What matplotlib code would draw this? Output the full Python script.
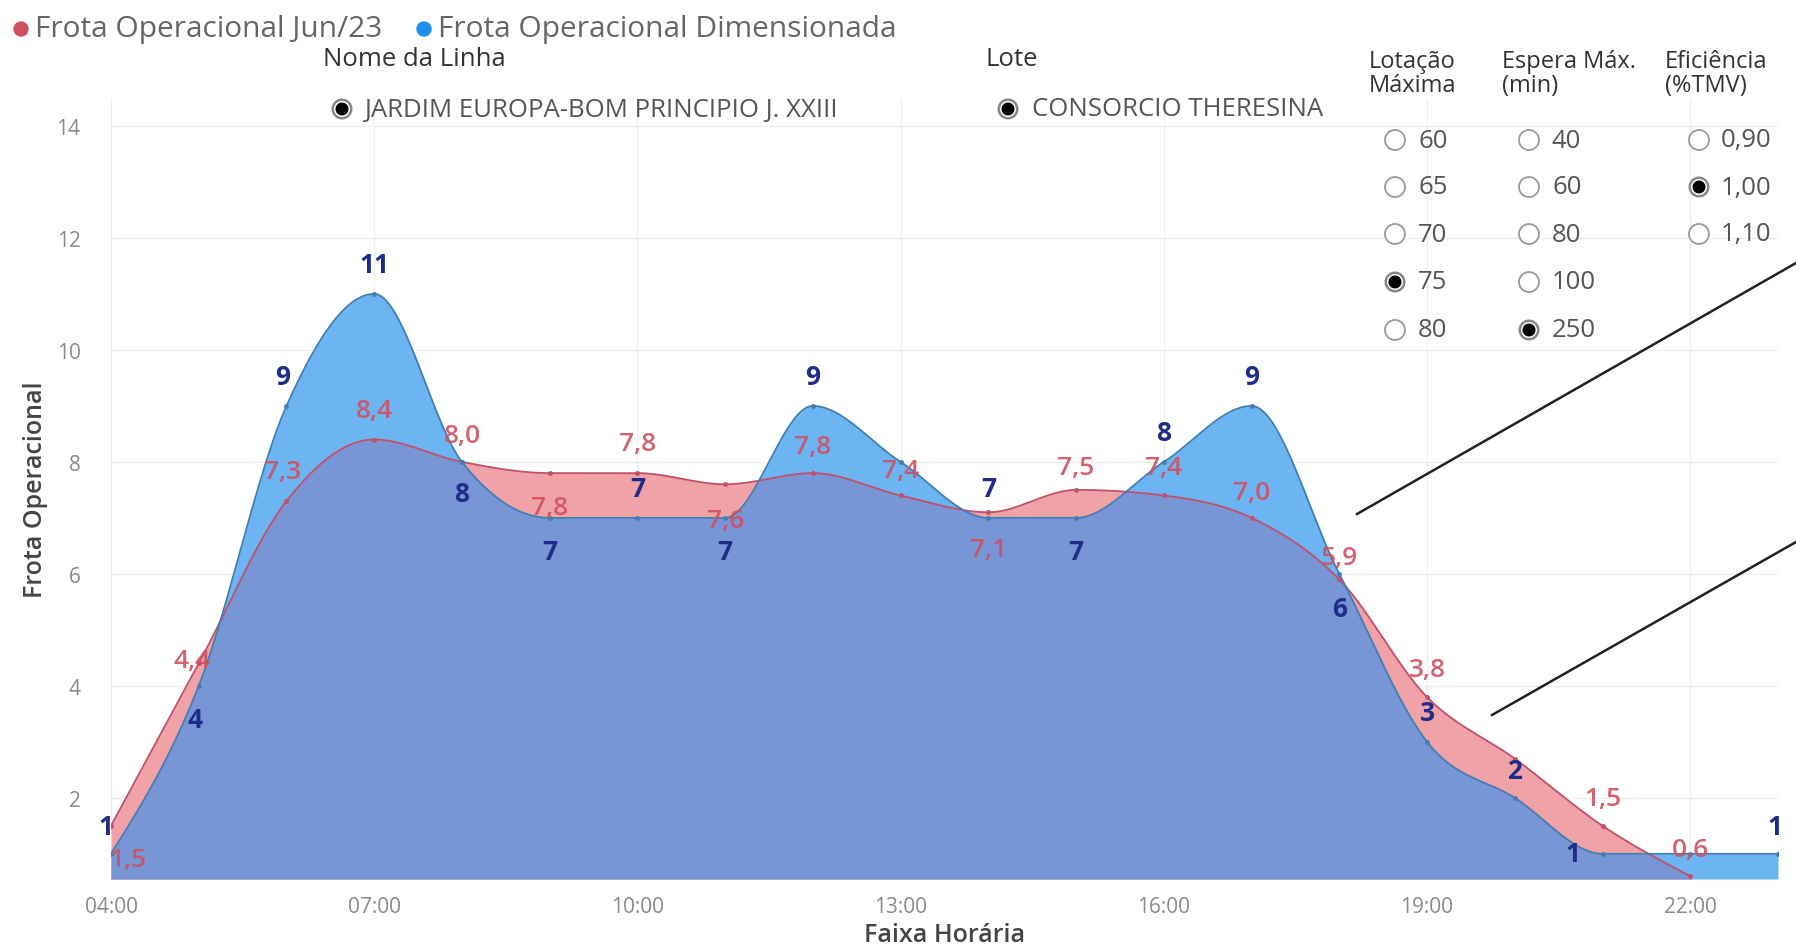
import numpy as np
import matplotlib.pyplot as plt
from matplotlib.patches import Circle

# dados
horas = list(range(4, 24))
ticks_x = [4, 7, 10, 13, 16, 19, 22]
rotulos_x = ["04:00", "07:00", "10:00", "13:00", "16:00", "19:00", "22:00"]
ticks_y = [2, 4, 6, 8, 10, 12, 14]

frota_jun23 = [1.5, 4.4, 7.3, 8.4, 8.0, 7.8, 7.8, 7.6, 7.8, 7.4, 7.1, 7.5,
               7.4, 7.0, 5.9, 3.8, 2.7, 1.5, 0.6]
frota_dim = [1, 4, 9, 11, 8, 7, 7, 7, 9, 8, 7, 7, 8, 9, 6, 3, 2, 1, 1, 1]

legenda = ["Frota Operacional Jun/23", "Frota Operacional Dimensionada"]

lotacao = ["60", "65", "70", "75", "80"]
espera = ["40", "60", "80", "100", "250"]
eficiencia = ["0,90", "1,00", "1,10"]
sel_lotacao, sel_espera, sel_eficiencia = "75", "250", "1,00"

# posicao dos rotulos (offset em pontos), None = rotulo oculto
off_dim = [(-4, 20), (-3, -24), (-3, 21), (0, 21), (0, -23), (0, -24), (0, 21),
           (0, -24), (0, 21), None, (0, 21), (0, -24), (0, 21), (0, 21),
           (0, -25), (0, 21), (0, 20), (-21, 0), None, (-2, 20)]
off_jun = [(12, -24), (-5, 2), (-3, 21), (0, 21), (0, 19), (0, -25), (0, 21),
           (0, -26), (0, 19), (0, 18), (0, -27), (0, 16), (0, 20), (0, 18),
           (0, 16), (0, 20), None, (0, 20), (0, 19)]

C_BLUE_FILL = "#6db4f3"
C_RED_FILL = "#f1a2a7"
C_OVER = "#7895d5"
C_BLUE_LINE = "#3f7fb3"
C_RED_LINE = "#c0506a"
C_BLUE_TXT = "#1f2d8a"
C_RED_TXT = "#d0505f"
FONT = "Open Sans"


def monotone(x, y, n=40):
    # curva monotona (igual d3.curveMonotoneX)
    x = np.asarray(x, float)
    y = np.asarray(y, float)
    h = np.diff(x)
    s = np.diff(y) / h
    m = np.zeros(len(x))
    for i in range(1, len(x) - 1):
        p = (s[i - 1] * h[i] + s[i] * h[i - 1]) / (h[i - 1] + h[i])
        m[i] = (np.sign(s[i - 1]) + np.sign(s[i])) * min(abs(s[i - 1]), abs(s[i]), 0.5 * abs(p))
    m[0] = (3 * s[0] - m[1]) / 2
    m[-1] = (3 * s[-1] - m[-2]) / 2
    xs, ys = [], []
    for i in range(len(x) - 1):
        t = np.linspace(0, 1, n, endpoint=False)
        h00 = 2 * t**3 - 3 * t**2 + 1
        h10 = t**3 - 2 * t**2 + t
        h01 = -2 * t**3 + 3 * t**2
        h11 = t**3 - t**2
        xs.append(x[i] + t * h[i])
        ys.append(h00 * y[i] + h10 * h[i] * m[i] + h01 * y[i + 1] + h11 * h[i] * m[i + 1])
    xs.append([x[-1]])
    ys.append([y[-1]])
    return np.concatenate(xs), np.concatenate(ys)


W, H = 1796, 953
fig = plt.figure(figsize=(W / 100, H / 100), dpi=100)
ax = fig.add_axes([111 / W, 1 - 880 / H, (1778 - 111) / W, (880 - 99) / H])

base = 0.55
xb, yb = monotone(horas, frota_dim)
xr, yr = monotone(horas[:len(frota_jun23)], frota_jun23)
yr_full = np.interp(xb, xr, yr, right=np.nan)

ax.fill_between(xb, base, yb, color=C_BLUE_FILL, lw=0, zorder=2)
ax.fill_between(xr, base, yr, color=C_RED_FILL, lw=0, zorder=2)
over = np.fmin(yb, np.where(np.isnan(yr_full), base, yr_full))
ax.fill_between(xb, base, over, color=C_OVER, lw=0, zorder=3)
ax.plot(xr, yr, color=C_RED_LINE, lw=1.3, zorder=4)
ax.plot(xb, yb, color=C_BLUE_LINE, lw=1.3, zorder=5)
ax.plot(horas[:len(frota_jun23)], frota_jun23, "o", ms=2.5, color=C_RED_LINE, zorder=6)
ax.plot(horas, frota_dim, "o", ms=2.5, color=C_BLUE_LINE, zorder=6)

for hx, v, off in zip(horas, frota_dim, off_dim):
    if off is None:
        continue
    ax.annotate(str(v), (hx, v), xytext=off, textcoords="offset points",
                ha="center", va="center", fontsize=19, fontweight="bold",
                color=C_BLUE_TXT, family=FONT, zorder=8)
for hx, v, off in zip(horas, frota_jun23, off_jun):
    if off is None:
        continue
    ax.annotate(f"{v:.1f}".replace(".", ","), (hx, v), xytext=off, textcoords="offset points",
                ha="center", va="center", fontsize=19, fontweight="semibold",
                color=C_RED_TXT, alpha=0.9, family=FONT, zorder=8)

ax.set_xlim(4, 23)
ax.set_ylim(base, 14.5)
ax.set_xticks(ticks_x)
ax.set_xticklabels(rotulos_x)
ax.set_yticks(ticks_y)
for sp in ax.spines.values():
    sp.set_visible(False)
ax.tick_params(length=0, labelsize=15, labelcolor="#8a8a8a", pad=12)
for lb in ax.get_xticklabels() + ax.get_yticklabels():
    lb.set_family(FONT)
ax.tick_params(axis="y", pad=22)
ax.grid(True, color="#eeeeee", lw=1, zorder=0)
ax.set_axisbelow(True)
ax.set_xlabel("Faixa Horária", fontsize=18, color="#444444", family=FONT,
              fontweight="semibold", labelpad=4)
ax.set_ylabel("Frota Operacional", fontsize=18, color="#444444", family=FONT,
              fontweight="semibold", labelpad=6)

# camada em pixels para legenda, filtros e setas
ov = fig.add_axes([0, 0, 1, 1], zorder=10)
ov.set_xlim(0, W)
ov.set_ylim(H, 0)
ov.axis("off")
ov.patch.set_alpha(0)

ov.add_patch(Circle((21, 30), 7, color="#d0505f"))
ov.text(35, 30, legenda[0], fontsize=21.5, color="#666666", va="center", family=FONT)
ov.add_patch(Circle((424, 30), 7, color="#1f8ff0"))
ov.text(438, 30, legenda[1], fontsize=21.5, color="#666666", va="center", family=FONT)


def radio(x, y, sel):
    if sel:
        ov.add_patch(Circle((x, y), 10.5, fc="#888888", ec="none"))
        ov.add_patch(Circle((x, y), 8, fc="white", ec="none"))
        ov.add_patch(Circle((x, y), 6.5, fc="black", ec="none"))
    else:
        ov.add_patch(Circle((x, y), 10, fc="white", ec="#9a9a9a", lw=1.3))


hdr = dict(fontsize=18.5, color="#333333", va="center", family=FONT)
itm = dict(fontsize=18.5, color="#555555", va="center", family=FONT)
col = dict(fontsize=17, color="#333333", va="center", family=FONT)

ov.text(323, 60, "Nome da Linha", **hdr)
radio(342, 110, True)
ov.text(364, 110, "JARDIM EUROPA-BOM PRINCIPIO J. XXIII", **itm)
ov.text(985, 60, "Lote", **hdr)
radio(1008, 110, True)
ov.text(1032, 110, "CONSORCIO THERESINA", **itm)

rows = [141, 188, 235, 283, 331]
ov.text(1369, 74, "Lotação\nMáxima", linespacing=0.95, **col)
ov.text(1502, 74, "Espera Máx.\n(min)", linespacing=0.95, **col)
ov.text(1665, 74, "Eficiência\n(%TMV)", linespacing=0.95, **col)
for yy, v in zip(rows, lotacao):
    radio(1395, yy, v == sel_lotacao)
    ov.text(1418, yy, v, **itm)
for yy, v in zip(rows, espera):
    radio(1529, yy, v == sel_espera)
    ov.text(1552, yy, v, **itm)
for yy, v in zip(rows, eficiencia):
    radio(1699, yy, v == sel_eficiencia)
    ov.text(1721, yy, v, **itm)

ov.plot([1357, 1796], [515, 264], color="#222222", lw=1.8)
ov.plot([1492, 1796], [716, 543], color="#222222", lw=1.8)

fig.savefig("out.png", dpi=100, facecolor="white")
